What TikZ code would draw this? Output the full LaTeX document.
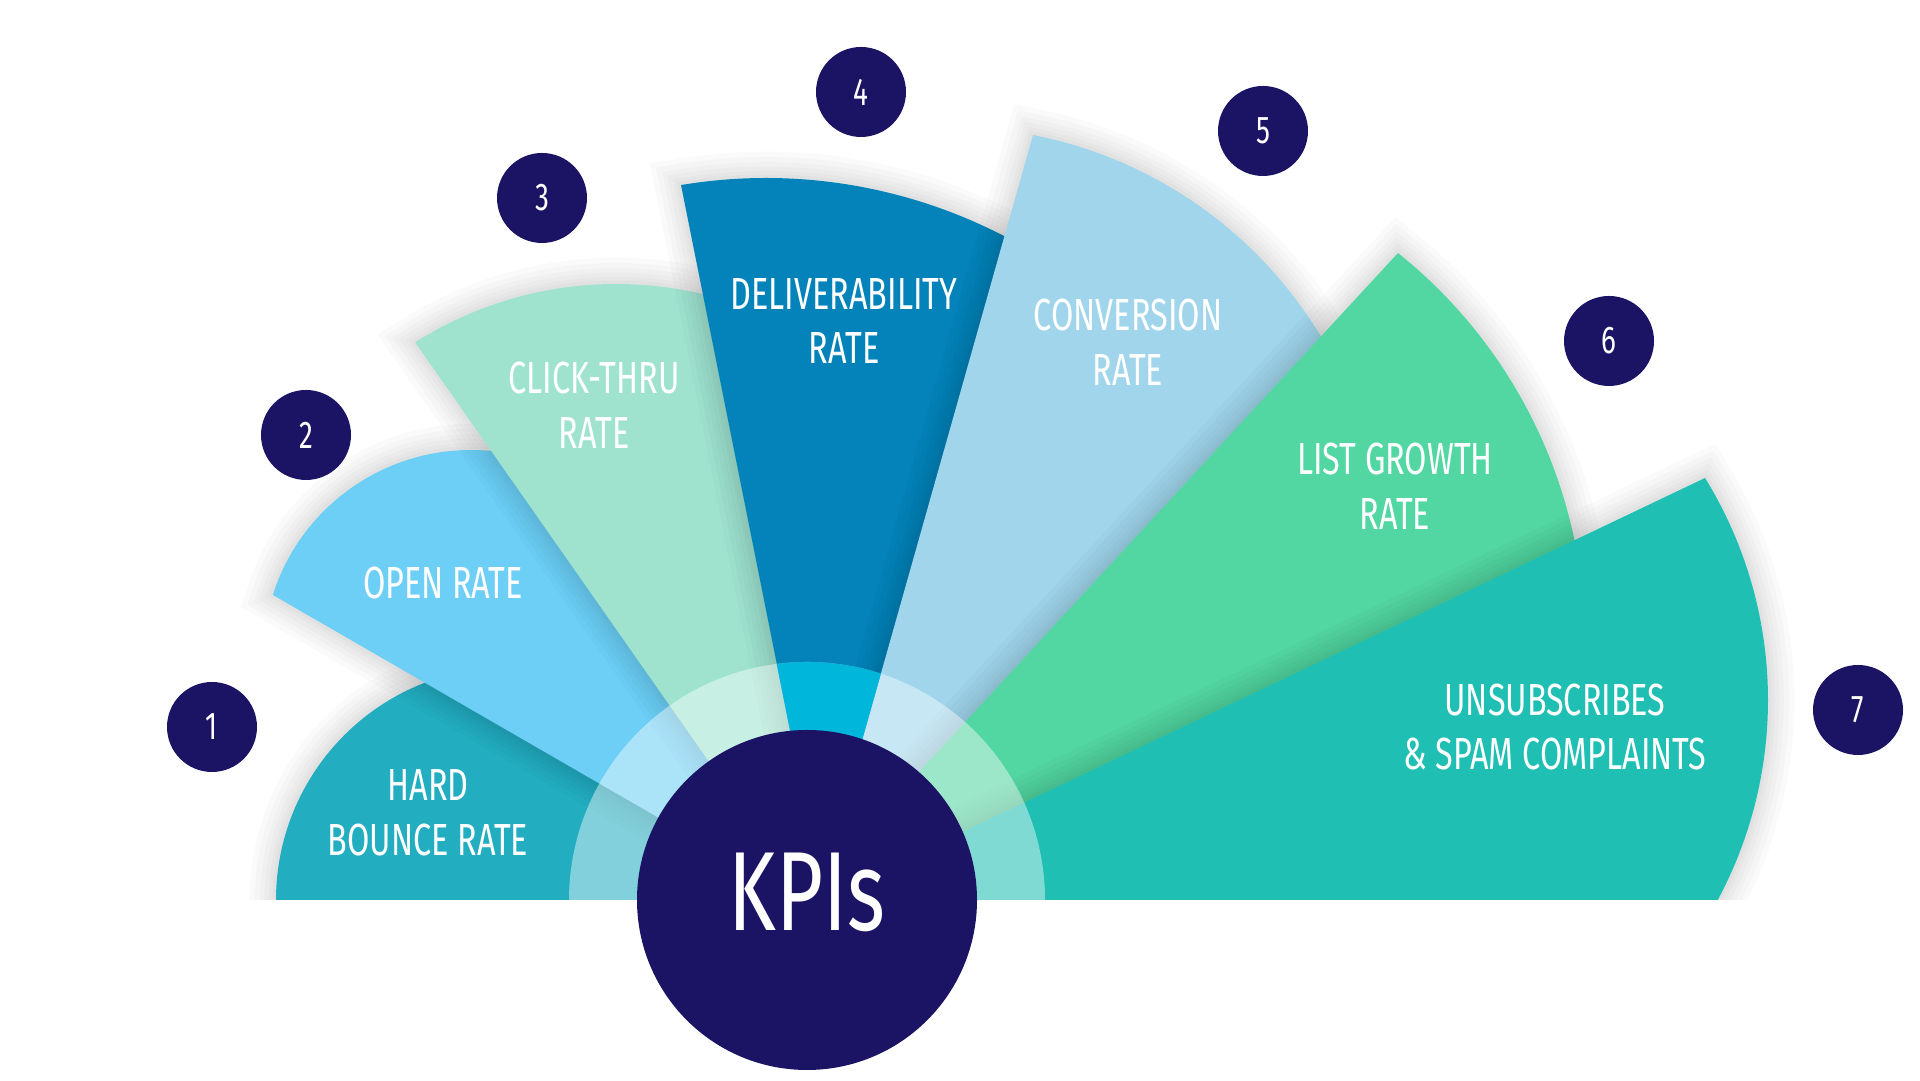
\documentclass[tikz,border=0pt]{standalone}
\usepackage{fontspec}
\newfontfamily\kpifont{Fira Sans}[FakeStretch=0.72]

\definecolor{hardc}{HTML}{22AEC0}
\definecolor{openc}{HTML}{6DCFF6}
\definecolor{clickc}{HTML}{9FE3CF}
\definecolor{delivc}{HTML}{0383B9}
\definecolor{convc}{HTML}{A0D5EC}
\definecolor{growc}{HTML}{52D6A2}
\definecolor{unsubc}{HTML}{1FBFB3}
\definecolor{cyanc}{HTML}{00B6DA}
\definecolor{navy}{HTML}{1B1464}

\tikzset{
  petal/.style={line join=round,
    preaction={draw=black, draw opacity=.02, line width=15pt},
    preaction={draw=black, draw opacity=.02, line width=12pt},
    preaction={draw=black, draw opacity=.02, line width=9pt},
    preaction={draw=black, draw opacity=.02, line width=6.5pt},
    preaction={draw=black, draw opacity=.02, line width=4pt},
    preaction={draw=black, draw opacity=.02, line width=2pt}},
  lab/.style={text=white, align=center, font=\kpifont\fontsize{12.8}{15.6}\selectfont},
  numdot/.style={circle, fill=navy, minimum size=9mm, inner sep=0pt, text=white,
    font=\kpifont\fontsize{11}{11}\selectfont}
}

\begin{document}
\begin{tikzpicture}
  \useasboundingbox (0,0) rectangle (19.2,10.81);
  % hub and arc centres
  \coordinate (hub) at (8.07,1.81);
  \coordinate (O1) at (5.09,1.81);
  \coordinate (O2) at (4.71,4.23);
  \coordinate (O3) at (6.16,4.22);
  \coordinate (O4) at (7.66,3.86);
  \coordinate (O5) at (9.50,5.21);
  \coordinate (O6) at (10.87,4.39);
  \coordinate (O7) at (13.45,3.81);

  \begin{scope}
    \clip (0,1.81) rectangle (19.2,10.81);
    \fill[petal, hardc] (hub) -- ([shift={(180:2.33)}]O1) arc[start angle=180, end angle=100, radius=2.33] -- cycle;
    \fill[petal, openc] (8.01,1.81) -- ([shift={(162.35:2.08)}]O2) arc[start angle=162.35, end angle=60, radius=2.08] -- cycle;
    \fill[petal, clickc] (8.06,1.81) -- ([shift={(122.4:3.75)}]O3) arc[start angle=122.4, end angle=65, radius=3.75] -- cycle;
    \fill[petal, delivc] (8.24,1.81) -- ([shift={(99.46:5.17)}]O4) arc[start angle=99.46, end angle=50, radius=5.17] -- cycle;
    \fill[petal, convc] (8.17,1.81) -- ([shift={(78.95:4.33)}]O5) arc[start angle=78.95, end angle=20, radius=4.33] -- cycle;
    \fill[petal, growc] (8.01,1.81) -- ([shift={(51.36:4.98)}]O6) arc[start angle=51.36, end angle=0, radius=4.98] -- cycle;
    \fill[petal, unsubc] (8.20,1.81) -- ([shift={(31.66:4.23)}]O7) arc[start angle=31.66, end angle=-30, radius=4.23] -- cycle;
    % light ring round the hub
    \fill[white, opacity=.43] (hub) circle (2.38);
    \begin{scope}
      \clip (hub) circle (2.38);
      \fill[cyanc] (8.21,1.95) -- (6.81,8.96) -- (10.33,9.46) -- cycle;
    \end{scope}
  \end{scope}

  \node[circle, fill=navy, minimum size=3.4cm, inner sep=0pt] (kpi) at (hub) {};
  \node[text=white, font=\kpifont\fontsize{32}{32}\selectfont] (kpitext)
    at ([yshift=0.8mm]kpi.center) {KPIs};

  \node[lab] (hard) at (4.28,2.68) {HARD\\BOUNCE RATE};
  \node[lab] (open) at (4.43,4.98) {OPEN RATE};
  \node[lab] (click) at (5.94,6.76) {CLICK-THRU\\RATE};
  \node[lab] (deliv) at (8.44,7.60) {DELIVERABILITY\\RATE};
  \node[lab] (conv) at (11.28,7.39) {CONVERSION\\RATE};
  \node[lab] (grow) at (13.95,5.95) {LIST GROWTH\\RATE};
  \node[lab] (unsub) at (15.55,3.54) {UNSUBSCRIBES\\\& SPAM COMPLAINTS};

  \foreach \n/\x/\y in {1/2.12/3.54, 2/3.06/6.46, 3/5.42/8.83, 4/8.61/9.89,
                        5/12.63/9.50, 6/16.09/7.40, 7/18.58/3.71}
    \node[numdot] (num\n) at (\x,\y) {\n};
\end{tikzpicture}
\end{document}
